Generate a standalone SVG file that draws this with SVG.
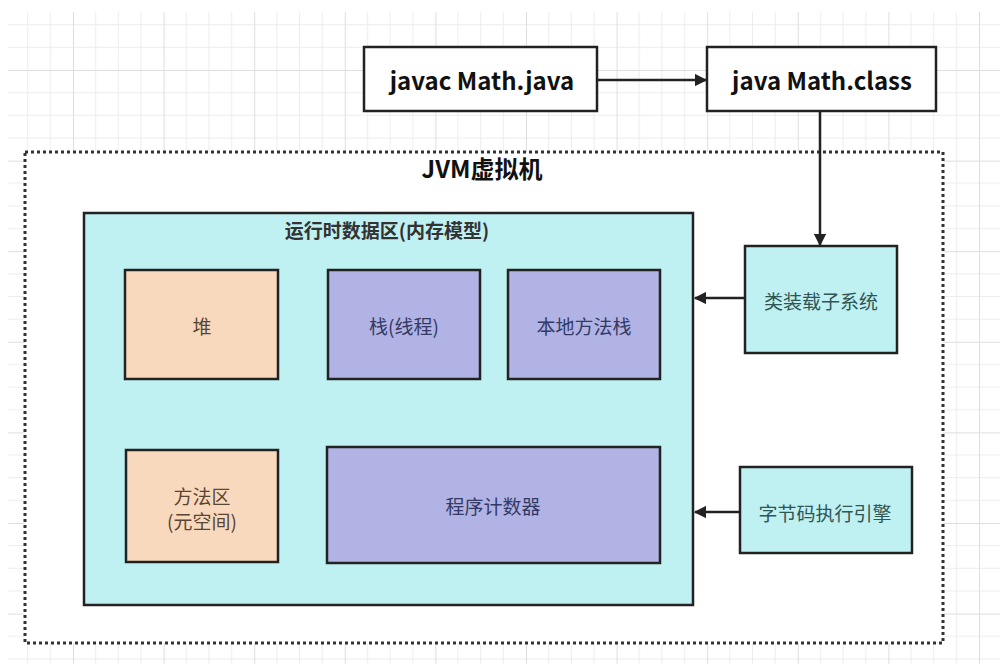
<svg xmlns="http://www.w3.org/2000/svg" width="1000" height="664" viewBox="0 0 1000 664">
<style>
text{font-family:"Noto Sans CJK SC","Noto Sans",sans-serif;text-anchor:middle;dominant-baseline:central}
.top{font-size:24px;font-weight:bold;fill:#111}
.box{stroke:#222;stroke-width:2.5}
.wbox{fill:#fff;stroke:#222;stroke-width:2.5}
.peach{fill:#f8d9bd}
.lav{fill:#b0b3e3}
.cyan{fill:#bff0f2}
.lbl{font-size:19px;fill:#333}
.tp{fill:#5a4535}
.tl{fill:#343a66}
.tc{fill:#2f5555}
.conn{stroke:#222;stroke-width:2.5;fill:none}
</style>
<defs>
<pattern id="grid" patternUnits="userSpaceOnUse" x="-17.6" y="-20.6" width="90.6" height="90.6">
<path d="M22.65 0V90.6M45.3 0V90.6M67.95 0V90.6M0 22.65H90.6M0 45.3H90.6M0 67.95H90.6" stroke="#ececec" stroke-width="1" fill="none"/>
<path d="M0.5 0V90.6M0 0.5H90.6" stroke="#dedede" stroke-width="1" fill="none"/>
</pattern>
<marker id="arr" viewBox="0 0 10 10" refX="9" refY="5" markerWidth="5" markerHeight="5" orient="auto" markerUnits="strokeWidth">
<path d="M0 0L10 5L0 10z" fill="#222"/>
</marker>
</defs>
<rect width="1000" height="664" fill="#fff"/>
<rect x="8" y="12" width="992" height="652" fill="url(#grid)"/>
<g id="jvm">
<rect x="25" y="152" width="918" height="491" fill="#fff" stroke="#333" stroke-width="3" stroke-dasharray="3 3"/>
<text x="482" y="167" style="font-size:24px;font-weight:bold;fill:#111">JVM虚拟机</text>
</g>
<g id="javac">
<rect class="wbox" x="364" y="47" width="233" height="64"/>
<text class="top" x="482" y="79">javac Math.java</text>
</g>
<g id="javaclass">
<rect class="wbox" x="707" y="47" width="229" height="64"/>
<text class="top" x="822" y="79">java Math.class</text>
</g>
<g id="runtime">
<rect class="box cyan" x="84" y="213" width="609" height="392"/>
<text x="387" y="229" style="font-size:19px;font-weight:bold;fill:#333">运行时数据区(内存模型)</text>
</g>
<g id="heap">
<rect class="box peach" x="125" y="270" width="153" height="109"/>
<text class="lbl tp" x="202" y="325">堆</text>
</g>
<g id="stack">
<rect class="box lav" x="328" y="270" width="152" height="109"/>
<text class="lbl tl" x="404" y="325">栈(线程)</text>
</g>
<g id="native">
<rect class="box lav" x="508" y="270" width="152" height="109"/>
<text class="lbl tl" x="584" y="325">本地方法栈</text>
</g>
<g id="method">
<rect class="box peach" x="126" y="450" width="152" height="112"/>
<text class="lbl tp" x="202" y="495">方法区</text>
<text class="lbl tp" x="202" y="520">(元空间)</text>
</g>
<g id="pc">
<rect class="box lav" x="327" y="447" width="333" height="116"/>
<text class="lbl tl" x="493" y="505">程序计数器</text>
</g>
<g id="loader">
<rect class="box cyan" x="745" y="246" width="152" height="107"/>
<text class="lbl tc" x="821" y="300">类装载子系统</text>
</g>
<g id="engine">
<rect class="box cyan" x="740" y="467" width="172" height="86"/>
<text class="lbl tc" x="825" y="512">字节码执行引擎</text>
</g>
<g id="connectors">
<line class="conn" x1="597" y1="80" x2="706" y2="80" marker-end="url(#arr)"/>
<line class="conn" x1="820" y1="111" x2="820" y2="245" marker-end="url(#arr)"/>
<line class="conn" x1="745" y1="298" x2="695" y2="298" marker-end="url(#arr)"/>
<line class="conn" x1="740" y1="512" x2="695" y2="512" marker-end="url(#arr)"/>
</g>
</svg>
